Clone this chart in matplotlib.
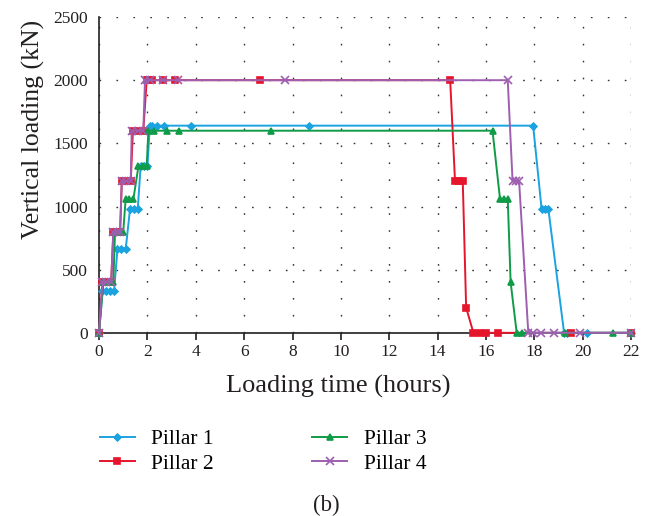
import matplotlib
matplotlib.use("Agg")
import matplotlib.pyplot as plt

plt.rcParams['font.family'] = ['Liberation Serif', 'DejaVu Serif']

# Loading histories of the four pillars: time (hours) and vertical load (kN)
t_p1 = [0, 0.14, 0.3, 0.45, 0.62, 0.76, 0.9, 1.1, 1.28, 1.45, 1.6, 1.72, 1.86, 2.0,
        2.1, 2.18, 2.38, 2.7, 3.79, 8.7, 17.95, 18.3, 18.45, 18.58, 19.23, 19.34,
        20.16, 22]
v_p1 = [0, 330, 330, 330, 330, 660, 660, 660, 980, 980, 980, 1320, 1320, 1320,
        1640, 1640, 1640, 1640, 1640, 1640, 1640, 980, 980, 980, 0, 0,
        0, 0]

t_p2 = [0, 0.14, 0.3, 0.5, 0.59, 0.73, 0.87, 0.94, 1.1, 1.31, 1.4, 1.6, 1.83,
        1.97, 2.04, 2.18, 2.66, 3.14, 6.66, 14.52, 14.72, 14.88, 15.04, 15.18,
        15.48, 15.76, 15.99, 16.5, 19.5, 22]
v_p2 = [0, 400, 400, 400, 800, 800, 800, 1200, 1200, 1200, 1600, 1600, 1600,
        2000, 2000, 2000, 2000, 2000, 2000, 2000, 1200, 1200, 1200, 200,
        0, 0, 0, 0, 0, 0]

t_p3 = [0, 0.18, 0.4, 0.59, 0.66, 0.85, 1.0, 1.1, 1.25, 1.42, 1.63, 1.8, 1.97,
        2.04, 2.27, 2.8, 3.3, 7.13, 16.27, 16.58, 16.75, 16.9, 17.02, 17.27,
        17.47, 19.27, 21.27, 22]
v_p3 = [0, 400, 400, 400, 800, 800, 800, 1060, 1060, 1060, 1320, 1320, 1320,
        1600, 1600, 1600, 1600, 1600, 1600, 1060, 1060, 1060, 400, 0,
        0, 0, 0, 0]

t_p4 = [0, 0.14, 0.3, 0.5, 0.59, 0.73, 0.87, 0.94, 1.1, 1.31, 1.35, 1.6, 1.83,
        1.9, 2.1, 2.66, 3.28, 7.7, 16.9, 17.1, 17.25, 17.37, 17.75, 17.96,
        18.26, 18.8, 19.9, 22]
v_p4 = [0, 400, 400, 400, 800, 800, 800, 1200, 1200, 1200, 1600, 1600, 1600,
        2000, 2000, 2000, 2000, 2000, 2000, 1200, 1200, 1200, 0, 0,
        0, 0, 0, 0]

series_names = ["Pillar 1", "Pillar 2", "Pillar 3", "Pillar 4"]
x_ticks = list(range(0, 23, 2))
y_ticks = list(range(0, 2501, 500))

colors = ["#1aa3e0", "#e5162c", "#0f9b47", "#9e5fb0"]
markers = ["D", "s", "^", "x"]
msizes = [3.5, 4.5, 5, 5.5]
ink = "#231f20"

fig = plt.figure(figsize=(6.56, 5.16), dpi=100)
ax = fig.add_axes([0.151, 0.355, 0.811, 0.612])

series = [(t_p1, v_p1), (t_p2, v_p2), (t_p3, v_p3), (t_p4, v_p4)]
handles = []
for (t, v), name, c, m, ms in zip(series, series_names, colors, markers, msizes):
    h, = ax.plot(t, v, color=c, lw=1.4, marker=m, ms=ms, mec=c, mfc=c,
                 mew=1.2, label=name, clip_on=False, zorder=3)
    handles.append(h)

ax.set_xlim(0, 22)
ax.set_ylim(0, 2500)
ax.set_xticks(x_ticks)
ax.set_yticks(y_ticks)
ax.grid(True, color="#333333", lw=1.0, linestyle=(0, (1.2, 11)))
ax.set_axisbelow(True)

for s in ("top", "right"):
    ax.spines[s].set_visible(False)
for s in ("left", "bottom"):
    ax.spines[s].set_color(ink)
    ax.spines[s].set_linewidth(1.2)

ax.tick_params(axis="x", direction="out", length=5, width=1.2, colors=ink,
               labelsize=12.5, pad=3)
ax.tick_params(axis="y", length=0, labelsize=12.5, colors=ink, pad=8)

ax.set_xlabel("Loading time (hours)", fontsize=19, color=ink, labelpad=11)
ax.set_ylabel("Vertical loading (kN)", fontsize=18.5, color=ink, labelpad=6)
ax.xaxis.label.set_x(0.449)
ax.yaxis.label.set_y(0.645)

fig.legend(handles=handles, labels=series_names, loc="upper left",
           bbox_to_anchor=(0.152, 0.168), ncol=2, frameon=False, fontsize=15.5,
           handlelength=1.65, columnspacing=4.55, labelspacing=0.2,
           handletextpad=0.75, borderpad=0, borderaxespad=0)

fig.text(0.497, 0.02, "(b)", ha="center", va="center", fontsize=16.5, color=ink)

fig.savefig("out.png", dpi=100)
